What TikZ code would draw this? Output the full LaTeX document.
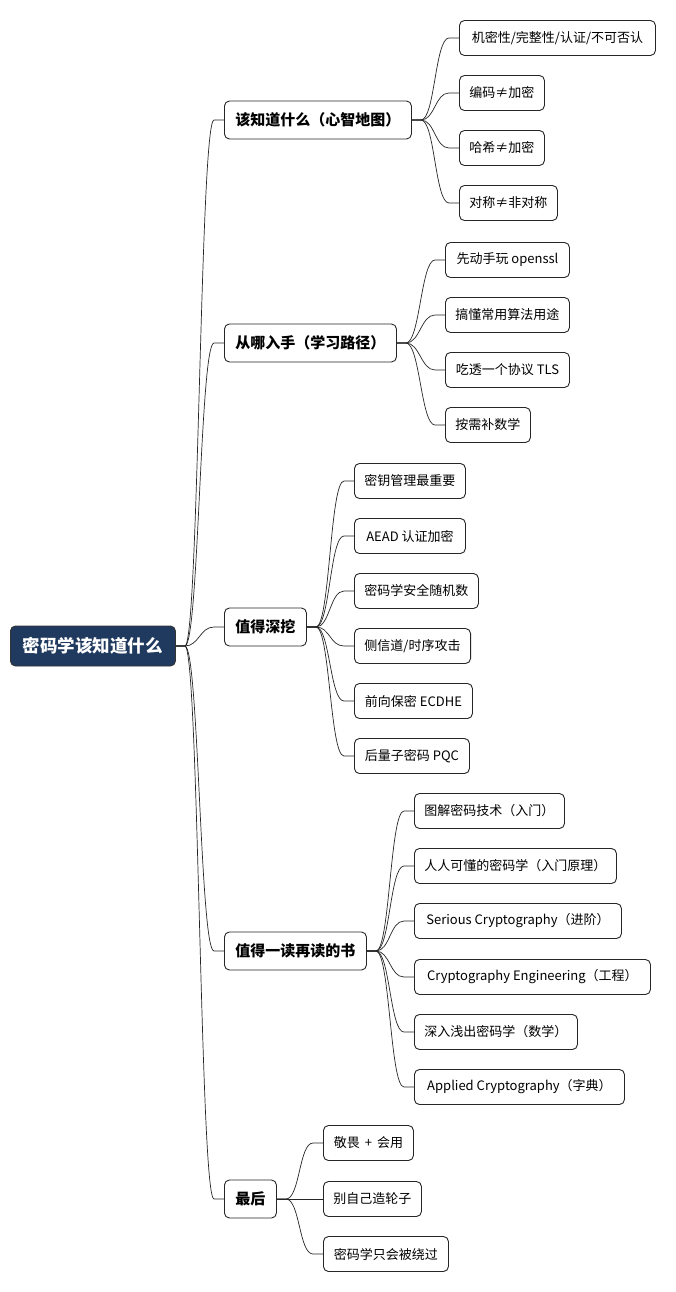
\documentclass[tikz,border=0pt]{standalone}
\usepackage{fontspec}
\setmainfont{Noto Sans CJK SC}
\usetikzlibrary{calc}
\definecolor{navy}{HTML}{1F3A5E}
\tikzset{
  leaf/.style={draw=black!85, line width=0.9pt, rounded corners=5pt, fill=white, anchor=west,
    minimum height=35pt, inner xsep=10pt, inner ysep=0pt, font=\fontsize{13}{15}\selectfont},
  branch/.style={leaf, minimum height=38pt, inner xsep=11pt, font=\bfseries\fontsize{15}{18}\selectfont},
  rootnode/.style={draw=black!80, line width=0.9pt, fill=navy, text=white, rounded corners=5pt, anchor=west,
    minimum height=40pt, inner xsep=12pt, inner ysep=0pt, font=\bfseries\fontsize{17.5}{20}\selectfont},
  conn/.style={draw=black!85, line width=0.7pt},
  w/.style={minimum width=#1}
}
\newcommand{\mmlink}[2]{\draw[conn] (#1.east) -- ++(9,0) .. controls +(14,0) and ($(#2.west)+(-24,0)$) .. ($(#2.west)+(-10,0)$) -- (#2.west);}
\begin{document}
\begin{tikzpicture}[x=1pt,y=-1pt]
\useasboundingbox[fill=white] (0,0) rectangle (675,1292);
\node[rootnode, w=165pt] (root) at (10,646) {密码学该知道什么};

\node[branch, w=186pt] (b1) at (224,120) {该知道什么（心智地图）};
\node[branch, w=171pt] (b2) at (224,343) {从哪入手（学习路径）};
\node[branch, w=80pt] (b3) at (224,627) {值得深挖};
\node[branch, w=140pt] (b4) at (224,951) {值得一读再读的书};
\node[branch, w=50pt] (b5) at (224,1199) {最后};

\node[leaf, w=196pt] (c11) at (459,38) {机密性/完整性/认证/不可否认};
\node[leaf, w=82pt] (c12) at (459,93) {编码≠加密};
\node[leaf, w=82pt] (c13) at (459,148) {哈希≠加密};
\node[leaf, w=95pt] (c14) at (459,203) {对称≠非对称};

\node[leaf, w=124pt] (c21) at (445,260) {先动手玩 openssl};
\node[leaf, w=124pt] (c22) at (445,315) {搞懂常用算法用途};
\node[leaf, w=124pt] (c23) at (445,370) {吃透一个协议 TLS};
\node[leaf, w=84pt] (c24) at (445,425) {按需补数学};

\node[leaf, w=111pt] (c31) at (354,481) {密钥管理最重要};
\node[leaf, w=111pt] (c32) at (354,536) {AEAD 认证加密};
\node[leaf, w=124pt] (c33) at (354,591) {密码学安全随机数};
\node[leaf, w=116pt] (c34) at (354,646) {侧信道/时序攻击};
\node[leaf, w=118pt] (c35) at (354,701) {前向保密 ECDHE};
\node[leaf, w=115pt] (c36) at (354,756) {后量子密码 PQC};

\node[leaf, w=150pt] (c41) at (414,811) {图解密码技术（入门）};
\node[leaf, w=202pt] (c42) at (414,866) {人人可懂的密码学（入门原理）};
\node[leaf, w=207pt] (c43) at (414,921) {Serious Cryptography（进阶）};
\node[leaf, w=236pt] (c44) at (414,977) {Cryptography Engineering（工程）};
\node[leaf, w=163pt] (c45) at (414,1032) {深入浅出密码学（数学）};
\node[leaf, w=210pt] (c46) at (414,1087) {Applied Cryptography（字典）};

\node[leaf, w=90pt] (c51) at (323,1143) {敬畏 \,+\, 会用};
\node[leaf, w=98pt] (c52) at (323,1199) {别自己造轮子};
\node[leaf, w=125pt] (c53) at (323,1254) {密码学只会被绕过};

\foreach \b in {b1,b2,b3,b4,b5} {\mmlink{root}{\b}}
\foreach \c in {c11,c12,c13,c14} {\mmlink{b1}{\c}}
\foreach \c in {c21,c22,c23,c24} {\mmlink{b2}{\c}}
\foreach \c in {c31,c32,c33,c34,c35,c36} {\mmlink{b3}{\c}}
\foreach \c in {c41,c42,c43,c44,c45,c46} {\mmlink{b4}{\c}}
\foreach \c in {c51,c52,c53} {\mmlink{b5}{\c}}
\end{tikzpicture}
\end{document}
